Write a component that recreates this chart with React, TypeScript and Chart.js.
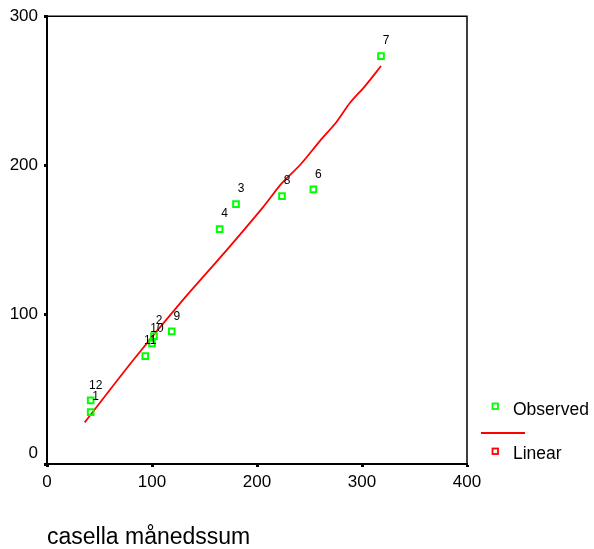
import React, { useEffect, useRef } from 'react';
import { Chart, registerables } from 'chart.js';

Chart.register(...registerables);

// Case labels and observed values
const caseIds = ['1', '2', '3', '4', '6', '7', '8', '9', '10', '11', '12'];
const observedX = [41.6, 101.9, 180, 164.4, 253.7, 318.1, 223.8, 118.8, 100, 93.6, 41.6];
const observedY = [34.8, 85.7, 174.1, 157.4, 184, 273.3, 179.5, 88.9, 80.8, 72.3, 42.6];

// Linear fit line (as drawn)
const linearX = [35.9, 82.2, 126.7, 171.1, 206, 223.5, 241, 260, 275.9, 288.6, 302.9, 318.1];
const linearY = [27.9, 69.7, 107.6, 143.3, 172.3, 188, 200.3, 216.5, 229.3, 242, 253.2, 266.6];

const xTicks = [0, 100, 200, 300, 400];
const yTicks = [0, 100, 200, 300];
const xTitle = 'casella månedssum';
const legendLabels = ['Observed', 'Linear'];

const FONT = 'Arial, "Liberation Sans", sans-serif';
const GREEN = '#00ff00';
const RED = '#ff0000';

const pointLabelPlugin = {
  id: 'pointLabels',
  afterDatasetsDraw(chart: any) {
    const ctx = chart.ctx;
    const meta = chart.getDatasetMeta(0);
    ctx.save();
    ctx.font = `12px ${FONT}`;
    ctx.fillStyle = '#000';
    ctx.textAlign = 'center';
    ctx.textBaseline = 'middle';
    meta.data.forEach((el: any, i: number) => {
      ctx.fillText(caseIds[i], el.x + 5, el.y - 15);
    });
    ctx.restore();
  },
};

const framePlugin = {
  id: 'frame',
  afterDraw(chart: any) {
    const { ctx, chartArea } = chart;
    ctx.save();
    ctx.strokeStyle = '#000';
    ctx.lineWidth = 1.5;
    ctx.beginPath();
    ctx.moveTo(chartArea.left, chartArea.top);
    ctx.lineTo(chartArea.right, chartArea.top);
    ctx.lineTo(chartArea.right, chartArea.bottom);
    ctx.stroke();
    ctx.restore();
  },
};

const legendPlugin = {
  id: 'customLegend',
  afterDraw(chart: any) {
    const { ctx, chartArea } = chart;
    const bx = chartArea.right + 28;
    const tx = chartArea.right + 46;
    ctx.save();
    ctx.font = `17.5px ${FONT}`;
    ctx.fillStyle = '#000';
    ctx.textAlign = 'left';
    ctx.textBaseline = 'middle';
    // Observed
    ctx.strokeStyle = GREEN;
    ctx.lineWidth = 1.8;
    ctx.strokeRect(bx - 2.5, 403.5, 5.5, 5.5);
    ctx.fillText(legendLabels[0], tx, 410);
    // Linear line
    ctx.strokeStyle = RED;
    ctx.lineWidth = 1.8;
    ctx.beginPath();
    ctx.moveTo(chartArea.right + 14, 433);
    ctx.lineTo(chartArea.right + 58, 433);
    ctx.stroke();
    ctx.strokeRect(bx - 2.5, 448.5, 5.5, 5.5);
    ctx.fillText(legendLabels[1], tx, 454);
    ctx.restore();
  },
};

export default function App() {
  const canvasRef = useRef<HTMLCanvasElement | null>(null);

  useEffect(() => {
    if (!canvasRef.current) return;
    const chart = new Chart(canvasRef.current, {
      type: 'scatter',
      data: {
        datasets: [
          {
            label: legendLabels[0],
            data: observedX.map((x, i) => ({ x, y: observedY[i] })),
            pointStyle: 'rect',
            pointRadius: 4,
            borderWidth: 2,
            borderColor: GREEN,
            backgroundColor: 'rgba(0,0,0,0)',
            showLine: false,
          },
          {
            label: legendLabels[1],
            data: linearX.map((x, i) => ({ x, y: linearY[i] })),
            showLine: true,
            pointRadius: 0,
            borderColor: RED,
            borderWidth: 1.8,
            tension: 0.3,
          },
        ],
      },
      options: {
        responsive: false,
        animation: false,
        events: [],
        layout: { padding: { left: 0, top: 16, right: 127, bottom: 0 } },
        plugins: {
          legend: { display: false },
          tooltip: { enabled: false },
        },
        scales: {
          x: {
            type: 'linear',
            min: 0,
            max: 400,
            afterBuildTicks: (s: any) => {
              s.ticks = xTicks.map((v) => ({ value: v }));
            },
            afterFit: (s: any) => {
              s.height = 85;
            },
            ticks: {
              font: { size: 17, family: FONT },
              color: '#000',
              padding: 5,
              maxRotation: 0,
            },
            grid: {
              drawOnChartArea: false,
              drawTicks: true,
              tickLength: 3,
              tickWidth: 3,
              tickColor: '#000',
            },
            border: { display: true, color: '#000', width: 2 },
            title: {
              display: true,
              text: xTitle,
              align: 'start',
              color: '#000',
              font: { size: 23, family: FONT, lineHeight: 1 },
              padding: { top: 0, bottom: 0 },
            },
          },
          y: {
            type: 'linear',
            min: 0,
            max: 300,
            afterBuildTicks: (s: any) => {
              s.ticks = yTicks.map((v) => ({ value: v }));
            },
            afterFit: (s: any) => {
              s.width = 47;
            },
            ticks: {
              font: { size: 17, family: FONT },
              color: '#000',
              padding: 6,
              callback: (v: any) => (v === 0 ? ['0', ''] : String(v)),
            },
            grid: {
              drawOnChartArea: false,
              drawTicks: true,
              tickLength: 3,
              tickWidth: 3,
              tickColor: '#000',
            },
            border: { display: true, color: '#000', width: 2 },
          },
        },
      },
      plugins: [pointLabelPlugin, framePlugin, legendPlugin],
    } as any);
    return () => chart.destroy();
  }, []);

  return (
    <div style={{ position: 'absolute', left: 0, top: 0, width: 594, height: 549, background: '#fff' }}>
      <canvas ref={canvasRef} width={594} height={549} />
    </div>
  );
}
